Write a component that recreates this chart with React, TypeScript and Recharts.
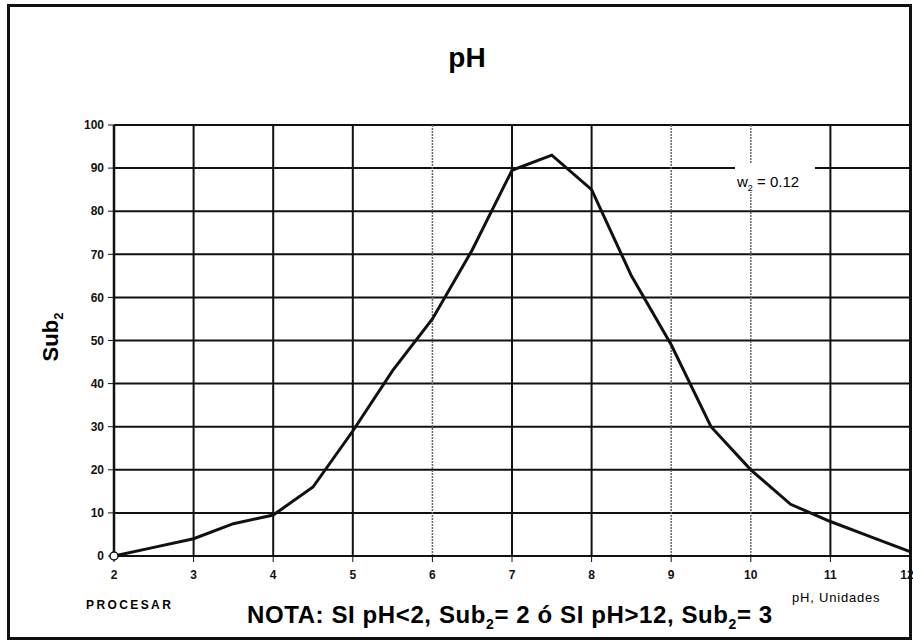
import React from 'react';
import { LineChart, Line, XAxis, YAxis, CartesianGrid, ReferenceLine } from 'recharts';

const phValues = [2, 2.5, 3, 3.5, 4, 4.5, 5, 5.5, 6, 6.5, 7, 7.5, 8, 8.5, 9, 9.5, 10, 10.5, 11, 11.5, 12];
const subValues = [0, 2, 4, 7.5, 9.5, 16, 29, 43, 55, 71, 89.5, 93, 85, 65, 49, 30, 20, 12, 8, 4.5, 1];
const xTicks = [2, 3, 4, 5, 6, 7, 8, 9, 10, 11, 12];
const yTicks = [0, 10, 20, 30, 40, 50, 60, 70, 80, 90, 100];
const solidX = [3, 4, 5, 7, 8, 11, 12];
const dottedX = [6, 9, 10];

const data = phValues.map((ph, i) => ({ ph, sub: subValues[i] }));

const tickFont = { fill: '#111', fontSize: 12, fontWeight: 700, fontFamily: 'Liberation Sans, Arial, sans-serif' };

const StartDot: React.FC<any> = (props) => {
  const { cx, cy, index } = props;
  if (index !== 0) return <g key={`d${index}`} />;
  return <circle key="d0" cx={cx} cy={cy} r={4} fill="#fff" stroke="#111" strokeWidth={1.5} />;
};

const App: React.FC = () => {
  return (
    <div style={{ position: 'absolute', left: 0, top: 0, width: 913, height: 643, background: '#fff', fontFamily: 'Liberation Sans, Arial, sans-serif' }}>
      <div style={{ position: 'absolute', left: 7, top: 4, width: 905, height: 636, border: '3px solid #111', boxSizing: 'border-box' }} />
      <LineChart width={913} height={643} data={data} margin={{ top: 125, right: 3, bottom: 57, left: 54 }}>
        <CartesianGrid vertical={false} stroke="#111" strokeWidth={2} />
        {solidX.map((x) => (
          <ReferenceLine key={`s${x}`} x={x} stroke="#111" strokeWidth={2} />
        ))}
        {dottedX.map((x) => (
          <ReferenceLine key={`d${x}`} x={x} stroke="#666" strokeWidth={1.5} strokeDasharray="2 1" />
        ))}
        <XAxis
          dataKey="ph"
          type="number"
          domain={[2, 12]}
          ticks={xTicks}
          height={30}
          tick={tickFont}
          tickSize={6}
          tickMargin={8}
          axisLine={{ stroke: '#111', strokeWidth: 2 }}
          tickLine={{ stroke: '#111' }}
        />
        <YAxis
          type="number"
          domain={[0, 100]}
          ticks={yTicks}
          width={60}
          tick={tickFont}
          tickSize={6}
          tickMargin={4}
          axisLine={{ stroke: '#111', strokeWidth: 2.5 }}
          tickLine={{ stroke: '#111' }}
        />
        <Line
          type="linear"
          dataKey="sub"
          stroke="#111"
          strokeWidth={3}
          dot={<StartDot />}
          isAnimationActive={false}
        />
      </LineChart>

      <div style={{ position: 'absolute', left: 417, top: 42, width: 100, textAlign: 'center', fontSize: 28, fontWeight: 700, lineHeight: '32px' }}>pH</div>

      <div style={{ position: 'absolute', left: 52, top: 337, transform: 'translate(-50%, -50%) rotate(-90deg)', fontSize: 22, fontWeight: 700, whiteSpace: 'nowrap' }}>
        Sub<sub style={{ fontSize: 13 }}>2</sub>
      </div>

      <div style={{ position: 'absolute', left: 735, top: 164, width: 80, height: 28, background: '#fff', fontSize: 15, lineHeight: '16px', paddingTop: 10, paddingLeft: 2, boxSizing: 'border-box', whiteSpace: 'nowrap' }}>
        w<sub style={{ fontSize: 9 }}>2</sub> = 0.12
      </div>

      <div style={{ position: 'absolute', left: 86, top: 598, fontSize: 12, fontWeight: 700, letterSpacing: 2.4, whiteSpace: 'nowrap' }}>PROCESAR</div>

      <div style={{ position: 'absolute', left: 792, top: 590, fontSize: 13, letterSpacing: 0.8, whiteSpace: 'nowrap' }}>pH, Unidades</div>

      <div style={{ position: 'absolute', left: 247, top: 602, fontSize: 24, fontWeight: 700, letterSpacing: 0.6, whiteSpace: 'nowrap', lineHeight: '26px' }}>
        NOTA: SI pH&lt;2, Sub<sub style={{ fontSize: 14 }}>2</sub>= 2 ó SI pH&gt;12, Sub<sub style={{ fontSize: 14 }}>2</sub>= 3
      </div>
    </div>
  );
};

export default App;
